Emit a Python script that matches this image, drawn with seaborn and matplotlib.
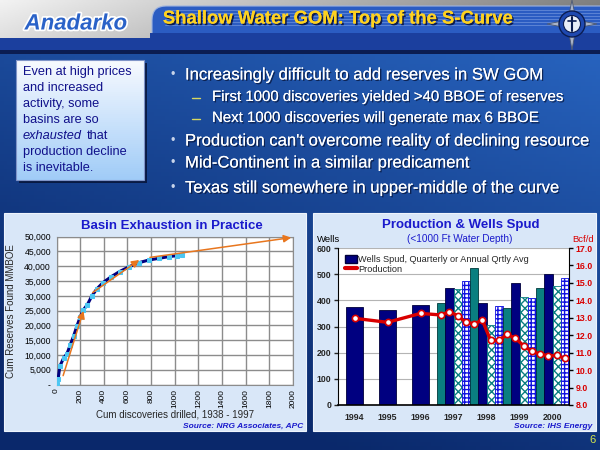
import numpy as np
import matplotlib
matplotlib.use('Agg')
from matplotlib import pyplot as plt
import matplotlib.patches as mpatches
import matplotlib.patheffects as pe
from matplotlib.lines import Line2D
import seaborn as sns

# ---- left chart: basin exhaustion curve ----
cum_discoveries = [0, 14, 28, 61, 89, 117, 144, 172, 200, 228, 261, 297, 339,
                   394, 464, 533, 617, 700, 783, 867, 950, 1019, 1059]
cum_reserves = [300, 1900, 6200, 9000, 10450, 13480, 16300, 19700, 22800, 25300,
                27000, 29800, 32250, 34500, 36500, 38200, 39900, 41240, 42130,
                42700, 43260, 43600, 43830]
# orange trend arrows (start x, start y, end x, end y)
trend_x0 = [56, 306, 790]
trend_y0 = [3000, 31100, 43000]
trend_x1 = [228, 700, 1985]
trend_y1 = [24900, 42130, 49700]

# ---- right chart: wells spud and production ----
years = ['1994', '1995', '1996', '1997', '1998', '1999', '2000']
annual_wells = [375, 364, 383]
quarterly_wells = [390, 448, 443, 474,
                   522, 391, 306, 378,
                   371, 468, 413, 410,
                   448, 501, 455, 486]
annual_prod = [12.97, 12.74, 13.25]
quarterly_prod = [13.16, 13.35, 13.12, 12.74,
                  12.66, 12.86, 11.70, 11.70,
                  12.05, 11.82, 11.40, 11.07,
                  10.92, 10.82, 10.84, 10.67]

bullets = [
    ("Increasingly difficult to add reserves in SW GOM", 0),
    ("First 1000 discoveries yielded >40 BBOE of reserves", 1),
    ("Next 1000 discoveries will generate max 6 BBOE", 1),
    ("Production can't overcome reality of declining resource", 0),
    ("Mid-Continent in a similar predicament", 0),
    ("Texas still somewhere in upper-middle of the curve", 0),
]
box_lines = ["Even at high prices", "and increased", "activity, some",
             "basins are so", None, "production decline", "is inevitable."]

sns.set_style('white')
plt.rcParams['font.family'] = ['Liberation Sans', 'DejaVu Sans']
plt.rcParams['hatch.linewidth'] = 1.0

NAVY = '#000080'
TEAL = '#0a7f80'
RED = '#d90000'
BLUE_T = '#1a1acc'


def px(l, t, r, b):
    return [l / 600, 1 - b / 450, (r - l) / 600, (b - t) / 450]


fig = plt.figure(figsize=(6, 4.5), dpi=100)
bg = fig.add_axes([0, 0, 1, 1])
bg.set_xlim(0, 600)
bg.set_ylim(450, 0)
bg.axis('off')

# slide background gradient
gy, gx = np.mgrid[0:1:120j, 0:1:160j]
light = np.array([0.18, 0.44, 0.82])
dark = np.array([0.04, 0.16, 0.42])
w = np.clip(0.55 + 0.35 * gx - 0.75 * gy, 0, 1)[..., None]
bg.imshow(dark + (light - dark) * w, extent=[0, 600, 450, 0], aspect='auto', zorder=0)

# header
hy, hx = np.mgrid[0:1:20j, 0:1:160j]
silver = np.clip(0.95 - 0.45 * hx - 0.1 * hy, 0, 1)[..., None] * np.ones(3)
bg.imshow(silver, extent=[0, 600, 50, 0], aspect='auto', zorder=1)
bg.add_patch(mpatches.Rectangle((0, 38), 600, 13, fc='#1b3f9e', ec='none', zorder=2))
bg.add_patch(mpatches.FancyBboxPatch((152, 6), 470, 45,
                                     boxstyle='round,pad=0,rounding_size=14',
                                     fc='#2b5cc2', ec='#9fb4e0', lw=0.8, zorder=2))
for k in range(6):
    bg.plot([165, 600], [10 + 3 * k, 10 + 3 * k], color='#6f93dc', lw=0.5, zorder=2)
bg.add_patch(mpatches.Rectangle((150, 33), 450, 17, fc='#1b3f9e', ec='none', zorder=2))
bg.add_patch(mpatches.Rectangle((0, 50), 600, 4, fc='#0b1d52', ec='none', zorder=2))
bg.text(76, 24, 'Anadarko', color='#2a62c8', fontsize=16, fontweight='bold',
        fontstyle='italic', ha='center', va='center', zorder=3,
        path_effects=[pe.withStroke(linewidth=2.5, foreground='white')])
bg.text(338, 19, 'Shallow Water GOM: Top of the S-Curve', color='#ffd21f',
        fontsize=13.3, fontweight='bold', ha='center', va='center', zorder=3,
        path_effects=[pe.withSimplePatchShadow(offset=(1.2, -1.2), shadow_rgbFace='#0a1440', alpha=0.9),
                      pe.Normal()])
# compass badge
star = mpatches.Polygon([(572, 0), (576, 20), (597, 24), (576, 28), (572, 50),
                         (568, 28), (547, 24), (568, 20)], closed=True,
                        fc='#aab4c8', ec='#4a5670', lw=0.6, zorder=3)
bg.add_patch(star)
bg.add_patch(mpatches.Circle((572, 24), 13, fc='#1f49b0', ec='#0b1d52', lw=1, zorder=4))
bg.add_patch(mpatches.Circle((572, 24), 8.5, fc='#e8eef8', ec='#0b1d52', lw=0.8, zorder=5))
bg.plot([572, 572], [17, 31], color='#0b1d52', lw=1.5, zorder=6)
bg.plot([568, 576], [21, 21], color='#0b1d52', lw=1.2, zorder=6)

# call-out box
bg.add_patch(mpatches.Rectangle((19, 63), 128, 120, fc='#071438', ec='none', alpha=0.85, zorder=2))
by, bx = np.mgrid[0:1:60j, 0:1:2j]
top_c = np.array([0.97, 0.98, 1.0])
bot_c = np.array([0.63, 0.80, 0.97])
bg.imshow(top_c + (bot_c - top_c) * by[..., None], extent=[16, 144, 180, 60],
          aspect='auto', zorder=3)
bg.add_patch(mpatches.Rectangle((16, 60), 128, 120, fc='none', ec='#7f94c8', lw=0.8, zorder=4))
for i, line in enumerate(box_lines):
    yy = 72 + 16 * i
    if line is None:
        bg.text(23, yy, 'exhausted', color='#10108a', fontsize=9.2, fontstyle='italic',
                va='center', zorder=5)
        bg.text(87, yy, 'that', color='#10108a', fontsize=9.2, va='center', zorder=5)
    else:
        bg.text(23, yy, line, color='#10108a', fontsize=9.2, va='center', zorder=5)

# bullets
bullet_y = [75, 97, 118, 141, 163, 188]
for (txt, lvl), yy in zip(bullets, bullet_y):
    shadow = [pe.withSimplePatchShadow(offset=(1, -1), shadow_rgbFace='#061030', alpha=0.7), pe.Normal()]
    if lvl == 0:
        bg.text(173, yy, '\u2022', color='#c8d4ea', fontsize=9, va='center', ha='center', zorder=5)
        bg.text(185, yy, txt, color='white', fontsize=12, va='center', zorder=5, path_effects=shadow)
    else:
        bg.plot([192, 200], [yy + 1, yy + 1], color='#d8d860', lw=1, zorder=5)
        bg.text(212, yy, txt, color='white', fontsize=10.8, va='center', zorder=5, path_effects=shadow)

# chart panels
bg.add_patch(mpatches.Rectangle((4, 213), 302, 218, fc='#d9e7f8', ec='#eef4fc', lw=0.8, zorder=2))
bg.add_patch(mpatches.Rectangle((313, 213), 283, 218, fc='#d9e7f8', ec='#eef4fc', lw=0.8, zorder=2))
bg.text(592, 440, '6', color='#d8e84a', fontsize=8, ha='center', va='center', zorder=3)

# ---------------- left chart ----------------
ax1 = fig.add_axes(px(56.5, 236.7, 293, 384.5))
ax1.set_facecolor('white')
sns.lineplot(x=cum_discoveries, y=cum_reserves, ax=ax1, color=NAVY, lw=2.2,
             marker='s', markersize=2.8, markerfacecolor='#4cc6f2',
             markeredgecolor='#4cc6f2', zorder=3)
for x0, y0, x1, y1 in zip(trend_x0, trend_y0, trend_x1, trend_y1):
    ax1.annotate('', xy=(x1, y1), xytext=(x0, y0),
                 arrowprops=dict(arrowstyle='-|>', color='#e8761e', lw=1.1,
                                 mutation_scale=11, shrinkA=0, shrinkB=0), zorder=4)
ax1.set_xlim(0, 2000)
ax1.set_ylim(0, 50000)
ax1.set_xticks(range(0, 2001, 200))
ax1.set_xticklabels([str(v) for v in range(0, 2001, 200)], rotation=90)
ax1.set_yticks(range(0, 50001, 5000))
ax1.set_yticklabels(['-' if v == 0 else f'{v:,}' for v in range(0, 50001, 5000)])
ax1.grid(True, color='#8c8c8c', lw=1)
for sp in ax1.spines.values():
    sp.set_color('#8c8c8c')
ax1.tick_params(axis='y', length=0, labelsize=6.2, pad=4, colors='black')
ax1.tick_params(axis='x', length=0, labelsize=6.0, pad=3, colors='black')
ax1.set_xlabel('Cum discoveries drilled, 1938 - 1997', fontsize=7, labelpad=1.5)
ax1.set_ylabel('Cum Reserves Found MMBOE', fontsize=7, labelpad=6)
bg.text(172, 226, 'Basin Exhaustion in Practice', color=BLUE_T, fontsize=9.5,
        fontweight='bold', ha='center', va='center', zorder=3)
bg.text(303, 426, 'Source: NRG Associates, APC', color='#1a1acc', fontsize=6,
        fontstyle='italic', fontweight='bold', ha='right', va='center', zorder=3)

# ---------------- right chart ----------------
ax3 = fig.add_axes(px(338, 248, 569, 405))
ax3.set_facecolor('white')
ax3.set_xlim(0, 7)
ax3.set_ylim(0, 600)
ax3.set_yticks(range(0, 601, 100))
ax3.yaxis.grid(True, color='#b4b4b4', lw=0.8)
ax3.set_axisbelow(True)

annual_x = [i + 0.5 for i in range(len(annual_wells))]
ax3.bar(annual_x, annual_wells, width=0.52, color=NAVY, edgecolor='#00003a', lw=0.6, zorder=2)
quarter_style = [dict(color=TEAL, edgecolor='#003a3a'),
                 dict(color=NAVY, edgecolor='#00003a'),
                 dict(color='white', edgecolor=TEAL, hatch='xxxx'),
                 dict(color='white', edgecolor='#1010e0', hatch='++++')]
quarter_x = []
for n, val in enumerate(quarterly_wells):
    g, q = divmod(n, 4)
    xq = len(annual_wells) + g + 0.125 + 0.25 * q
    quarter_x.append(xq)
    ax3.bar(xq, val, width=0.25, lw=0.6, zorder=2, **quarter_style[q])

ax3.set_xticks(range(0, 8))
ax3.set_xticklabels([''] * 8)
ax3.set_xticks([i + 0.5 for i in range(7)], minor=True)
ax3.set_xticklabels(years, minor=True)
ax3.tick_params(axis='x', which='major', direction='out', length=3, width=1, color='black')
ax3.tick_params(axis='x', which='minor', length=0, labelsize=6.3, pad=6)
ax3.tick_params(axis='y', direction='out', length=3, width=1, labelsize=6.3, pad=2)
for lab in ax3.get_xticklabels(minor=True) + ax3.get_yticklabels():
    lab.set_fontweight('bold')
ax3.spines['top'].set_visible(False)
ax3.spines['right'].set_visible(False)
ax3.spines['left'].set_color('black')
ax3.spines['bottom'].set_color('black')
ax3.spines['bottom'].set_linewidth(1.2)

ax4 = ax3.twinx()
sns.lineplot(x=annual_x + quarter_x, y=annual_prod + quarterly_prod, ax=ax4,
             color=RED, lw=2.4, marker='o', markersize=4.5, markerfacecolor='white',
             markeredgecolor=RED, markeredgewidth=1.2, zorder=3)
ax4.set_ylim(8, 17)
ax4.set_yticks(np.arange(8, 17.1, 1.0))
ax4.set_yticklabels([f'{v:.1f}' for v in np.arange(8, 17.1, 1.0)])
ax4.tick_params(axis='y', direction='out', length=3, width=1, labelsize=6.3,
                pad=2, labelcolor=RED, color='black')
for lab in ax4.get_yticklabels():
    lab.set_fontweight('bold')
for s in ['top', 'left', 'bottom']:
    ax4.spines[s].set_visible(False)
ax4.spines['right'].set_color('black')
ax4.set_ylabel('')
ax3.set_ylabel('')

handles = [mpatches.Patch(fc=NAVY, ec='#00003a'),
           Line2D([], [], color=RED, lw=3)]
ax4.legend(handles, ['Wells Spud, Quarterly or Annual Qrtly Avg', 'Production'],
           loc='upper left', bbox_to_anchor=(0.0, 1.0), frameon=False, fontsize=6.6,
           handlelength=1.3, handleheight=0.9, handletextpad=0.1, labelspacing=0.05,
           borderaxespad=0.4)

bg.text(461, 225, 'Production & Wells Spud', color=BLUE_T, fontsize=9.5,
        fontweight='bold', ha='center', va='center', zorder=3)
bg.text(460, 239, '(<1000 Ft Water Depth)', color=BLUE_T, fontsize=7.2,
        ha='center', va='center', zorder=3)
bg.text(317, 240, 'Wells', color='black', fontsize=6.8, ha='left', va='center', zorder=3)
bg.text(583, 240, 'Bcf/d', color=RED, fontsize=6.8, ha='center', va='center', zorder=3)
bg.text(592, 426, 'Source: IHS Energy', color='#1a1acc', fontsize=6,
        fontstyle='italic', fontweight='bold', ha='right', va='center', zorder=3)

fig.savefig('out.png', dpi=100)
